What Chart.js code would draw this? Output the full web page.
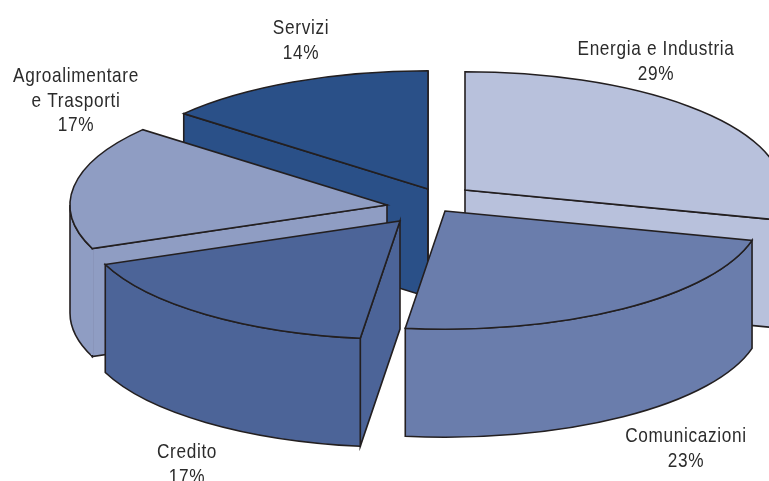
<!DOCTYPE html>
<html lang="it">
<head>
<meta charset="utf-8">
<title>Torta 3D</title>
<script src="https://cdn.jsdelivr.net/npm/chart.js@4/dist/chart.umd.min.js"></script>
<style>
  html, body { margin: 0; padding: 0; background: #fff; overflow: hidden; }
  canvas { display: block; }
</style>
</head>
<body>
<canvas id="torta" width="769" height="481"></canvas>
<script>
// dati
const categories = ['Energia e Industria', 'Comunicazioni', 'Credito', ['Agroalimentare', 'e Trasporti'], 'Servizi'];
const shares = [29, 23, 17, 17, 14];
const sliceColors = ['#b8c1dc', '#6a7dac', '#4c6498', '#8f9dc3', '#2a5088'];

// prospettiva della torta
const view = {
  radius: 317,
  squash: 0.373,      // ry / rx
  depth: 108,
  centerX: 425,
  centerY: 205,
  paintOrder: [0, 4, 3, 2, 1],
  explode: [[40, -15], [20, 6], [-25, 16], [-38, 0], [3, -16]],
  seamless: [3],      // fetta senza spigolo verticale tra le pareti
  labelAt: [[656, 55], [686, 442], [187, 458], [76, 82], [301, 34]],
  textWidth: 0.82
};

const LINE = '#231f20';

function strokeLine(ctx) {
  ctx.strokeStyle = LINE;
  ctx.lineWidth = 1.6;
  ctx.lineJoin = 'miter';
  ctx.stroke();
}

// parete radiale: visibile solo se l'estrusione esce dalla fetta
function drawCutFace(ctx, ax, ay, bx, by, px, py, color) {
  const edgeX = bx - ax, edgeY = by - ay;
  const down = edgeX * view.depth;
  const inner = edgeX * (py - ay) - edgeY * (px - ax);
  if (down * inner >= 0) return;
  ctx.beginPath();
  ctx.moveTo(ax, ay);
  ctx.lineTo(bx, by);
  ctx.lineTo(bx, by + view.depth);
  ctx.lineTo(ax, ay + view.depth);
  ctx.closePath();
  ctx.fillStyle = color;
  ctx.fill();
  strokeLine(ctx);
}

// parete esterna, solo la parte davanti (angoli 0..PI)
function drawOuterWall(ctx, ox, oy, r, start, end, color) {
  const ry = r * view.squash;
  const ranges = [[start, end], [start - 2 * Math.PI, end - 2 * Math.PI]];
  ranges.forEach(([s, e]) => {
    const a = Math.max(s, 0), b = Math.min(e, Math.PI);
    if (a >= b) return;
    ctx.beginPath();
    ctx.ellipse(ox, oy, r, ry, 0, a, b);
    ctx.ellipse(ox, oy + view.depth, r, ry, 0, b, a, true);
    ctx.closePath();
    ctx.fillStyle = color;
    ctx.fill();
    strokeLine(ctx);
  });
}

const pie3d = {
  id: 'pie3d',
  beforeDatasetDraw(chart) {
    const ctx = chart.ctx;
    const arcs = chart.getDatasetMeta(0).data;
    view.paintOrder.forEach(i => {
      const arc = arcs[i];
      const color = sliceColors[i];
      const r = arc.outerRadius;
      const ox = view.centerX + view.explode[i][0];
      const oy = view.centerY + view.explode[i][1];
      const s = arc.startAngle, e = arc.endAngle, mid = (s + e) / 2;
      const pt = (ang) => [ox + r * Math.cos(ang), oy + r * view.squash * Math.sin(ang)];
      const [sx, sy] = pt(s), [ex, ey] = pt(e), [mx, my] = pt(mid);

      drawCutFace(ctx, ox, oy, sx, sy, mx, my, color);
      drawCutFace(ctx, ox, oy, ex, ey, mx, my, color);
      drawOuterWall(ctx, ox, oy, r, s, e, color);

      if (view.seamless.includes(i)) {
        ctx.beginPath();
        ctx.moveTo(sx, sy + 1);
        ctx.lineTo(sx, sy + view.depth - 1.5);
        ctx.strokeStyle = color;
        ctx.lineWidth = 2.6;
        ctx.stroke();
      }

      // faccia superiore: la disegna l'arco di Chart.js, schiacciato
      ctx.save();
      ctx.translate(ox, oy);
      ctx.scale(1, view.squash);
      ctx.translate(-arc.x, -arc.y);
      arc.draw(ctx);
      ctx.restore();

      ctx.beginPath();
      ctx.moveTo(ox, oy);
      ctx.ellipse(ox, oy, r, r * view.squash, 0, s, e);
      ctx.closePath();
      strokeLine(ctx);
    });
    return false;
  },
  afterDatasetsDraw(chart) {
    const ctx = chart.ctx;
    ctx.font = "21px 'Liberation Sans', Arial, sans-serif";
    ctx.letterSpacing = '0.8px';
    ctx.fillStyle = '#2b2b2b';
    ctx.textAlign = 'center';
    ctx.textBaseline = 'alphabetic';
    chart.data.labels.forEach((label, i) => {
      const lines = [].concat(label, shares[i] + '%');
      lines.forEach((txt, n) => {
        ctx.save();
        ctx.translate(view.labelAt[i][0], view.labelAt[i][1] + n * 24.5);
        ctx.scale(view.textWidth, 1);
        ctx.fillText(txt, 0, 0);
        ctx.restore();
      });
    });
  }
};

new Chart(document.getElementById('torta'), {
  type: 'pie',
  data: {
    labels: categories,
    datasets: [{
      data: shares,
      backgroundColor: sliceColors,
      borderWidth: 0
    }]
  },
  options: {
    responsive: false,
    animation: false,
    radius: view.radius,
    layout: { padding: 0 },
    plugins: {
      legend: { display: false },
      tooltip: { enabled: false }
    }
  },
  plugins: [pie3d]
});
</script>
</body>
</html>
